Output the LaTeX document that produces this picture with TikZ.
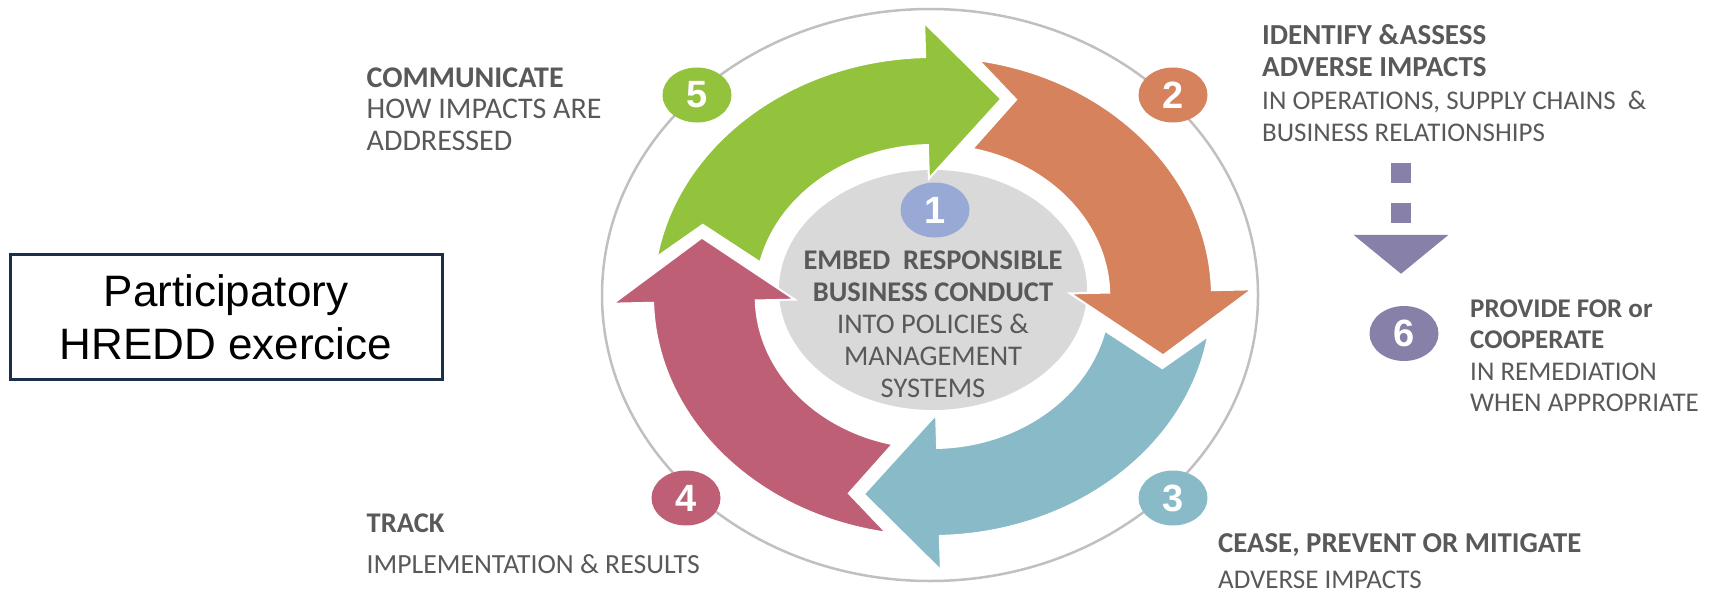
\documentclass[tikz,border=0pt]{standalone}
\usepackage{fontspec}
\setmainfont{Carlito}
\newfontfamily\arialfont{Liberation Sans}
\usetikzlibrary{shapes.geometric,arrows.meta}

\definecolor{greenarr}{HTML}{93C23C}
\definecolor{orangearr}{HTML}{D5825D}
\definecolor{cyanarr}{HTML}{88BAC7}
\definecolor{redarr}{HTML}{BE5F76}
\definecolor{onecol}{HTML}{98A9D5}
\definecolor{sixcol}{HTML}{8780A9}
\definecolor{disccol}{HTML}{D9D9D9}
\definecolor{ringcol}{HTML}{C0C0C0}
\definecolor{textgray}{HTML}{595959}
\definecolor{navy}{HTML}{1B2F4A}

\begin{document}
\begin{tikzpicture}[
    x=1pt, y=-1pt,
    % anchored on the baseline of the last line
    label/.style={
        anchor=base west,
        align=left,
        inner sep=0pt,
        text=textgray,
        font=\fontsize{27}{31.5}\selectfont
    },
    badge/.style={
        ellipse,
        inner sep=0pt,
        minimum width=69pt,
        minimum height=55pt,
        text=white,
        font=\arialfont\bfseries\fontsize{38}{38}\selectfont
    },
    titlebox/.style={
        rectangle,
        draw=navy,
        line width=3pt,
        minimum width=432pt,
        minimum height=125pt,
        align=center,
        font=\arialfont\fontsize{44}{53}\selectfont
    },
    cyclearrow/.style={
        draw=white,
        line width=2pt
    },
    remedy/.style={
        draw=sixcol,
        line width=20pt,
        dash pattern=on 20pt off 20pt,
        -{Triangle[width=93pt,length=39pt]}
    }
]
    \useasboundingbox (0,0) rectangle (1710,594);

    % --- Ring and centre disc ---
    \draw[ringcol, line width=2.5pt] (930,295) ellipse [x radius=328pt, y radius=286pt];
    \fill[disccol] (933,290) ellipse [x radius=154pt, y radius=120pt];

    % four arrows, one per quarter, clockwise
    \begin{scope}[shift={(932.5,296.5)}, x=1.167pt, y=1pt]
        \foreach \r/\col in {0/greenarr, -90/orangearr, -180/cyanarr, -270/redarr} {
            \fill[\col, cyclearrow] ({167+\r}:151.5) -- ({160+\r}:209.5) -- ({170.5+\r}:239.5)
                arc[start angle=170.5+\r, end angle=91.5+\r, radius=239.5]
                -- ({91.5+\r}:274) -- ({73.4+\r}:206.2) -- ({91.5+\r}:118) -- ({91.5+\r}:151.5)
                arc[start angle=91.5+\r, end angle=167+\r, radius=151.5] -- cycle;
        }
    \end{scope}

    % --- Nodes ---
    \node[titlebox] (title) at (226,317) {Participatory\\HREDD exercice};

    \node[badge, fill=onecol] (one) at (935,210) {1};
    \node[badge, fill=orangearr] (two) at (1173,95) {2};
    \node[badge, fill=cyanarr] (three) at (1173,498) {3};
    \node[badge, fill=redarr] (four) at (686,498) {4};
    \node[badge, fill=greenarr] (five) at (697,95) {5};
    \node[badge, fill=sixcol] (six) at (1404,333.5) {6};

    \node[label, anchor=base, align=center, font=\fontsize{28.5}{32}\selectfont] (embed) at (933,397)
        {\textbf{EMBED\ \ RESPONSIBLE}\\\textbf{BUSINESS CONDUCT}\\INTO POLICIES \&\\MANAGEMENT\\SYSTEMS};
    \node[label, font=\fontsize{27}{32.5}\selectfont] (identify) at (1262,141.5)
        {\textbf{\fontsize{29}{32.5}\selectfont IDENTIFY \&\kern1pt ASSESS}\\\textbf{\fontsize{29}{32.5}\selectfont ADVERSE IMPACTS}\\IN OPERATIONS, SUPPLY CHAINS \ \&\\BUSINESS RELATIONSHIPS};
    \node[label] (provide) at (1470,411.5)
        {\textbf{PROVIDE FOR or}\\\textbf{COOPERATE}\\IN REMEDIATION\\WHEN APPROPRIATE};
    \node[label, font=\fontsize{27}{30}\selectfont] (cease) at (1218,588)
        {\textbf{\fontsize{28.8}{30}\selectfont CEASE, PREVENT OR MITIGATE}\\[6pt]ADVERSE IMPACTS};
    \node[label, font=\fontsize{27.7}{30}\selectfont] (track) at (366.5,573.5)
        {\textbf{\fontsize{28.5}{30}\selectfont TRACK}\\[11.5pt]IMPLEMENTATION \& RESULTS};
    \node[label, font=\fontsize{30}{31.5}\selectfont] (communicate) at (366.5,150)
        {\textbf{COMMUNICATE}\\HOW IMPACTS ARE\\ADDRESSED};

    % --- Connections ---
    \coordinate (remtop) at (1401,163);
    \path[remedy, shorten >=32pt] (remtop) -- (remtop |- six.north);

\end{tikzpicture}
\end{document}
